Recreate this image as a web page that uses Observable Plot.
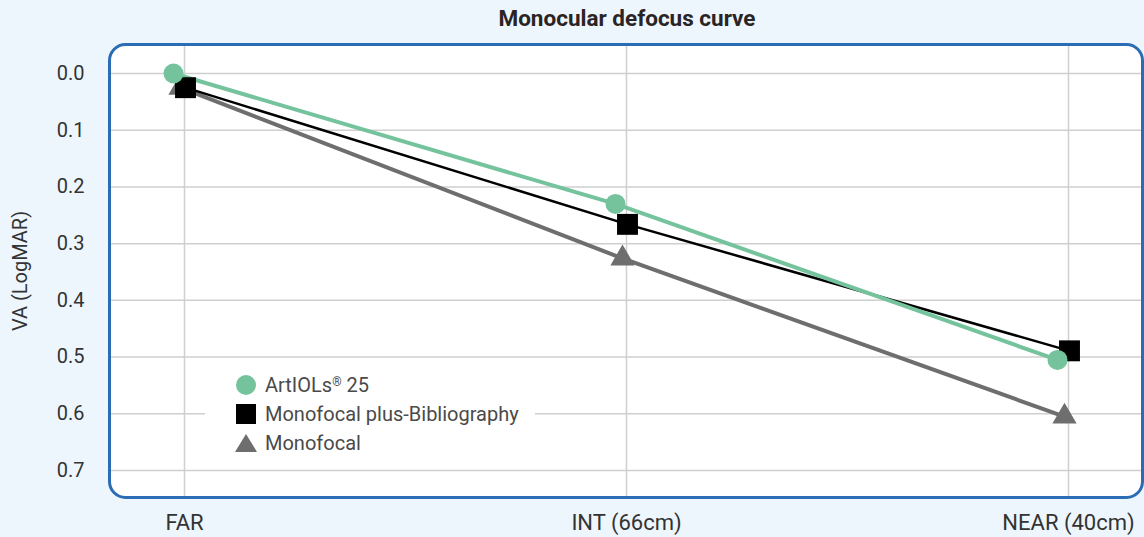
<!DOCTYPE html>
<html>
<head>
<meta charset="utf-8">
<script src="https://cdn.jsdelivr.net/npm/d3@7"></script>
<script src="https://cdn.jsdelivr.net/npm/@observablehq/plot@0.6"></script>
<style>
  html, body { margin: 0; padding: 0; background: #eef6fd; }
  #wrap { position: relative; width: 1144px; height: 537px; font-family: Roboto, "Noto Sans", sans-serif; }
  #title { position: absolute; left: 0; width: 1254px; top: 5px; text-align: center; font-weight: 700; font-size: 22.5px; color: #2a2424; }
  #legend { position: absolute; left: 205px; top: 370px; width: 330px; height: 88px; background: #fff; font-size: 20px; color: #4a4a4a; }
  .row { position: absolute; left: 30px; height: 24px; display: flex; align-items: center; }
  .row svg { margin-right: 8px; }
  sup { font-size: 12px; vertical-align: 6px; }
</style>
</head>
<body>
<div id="wrap">
  <div id="chart"></div>
  <div id="title">Monocular defocus curve</div>
  <div id="legend"></div>
</div>
<script>
const categories = ["FAR", "INT (66cm)", "NEAR (40cm)"];
const seriesNames = ["ArtIOLs® 25", "Monofocal plus-Bibliography", "Monofocal"];
const artiolsValues = [0.0, 0.23, 0.505];
const monoPlusValues = [0.025, 0.266, 0.489];
const monofocalValues = [0.025, 0.326, 0.605];
const yTicks = [0.0, 0.1, 0.2, 0.3, 0.4, 0.5, 0.6, 0.7];

const styles = {
  "ArtIOLs® 25": {color: "#74c39d", symbol: "circle", r: 10, sw: 4, dx: -11},
  "Monofocal plus-Bibliography": {color: "#000000", symbol: "square", r: 11.8, sw: 2.5, dx: 1},
  "Monofocal": {color: "#6e6e6e", symbol: "triangle", r: 9, sw: 4, dx: -4}
};
const valueLists = [artiolsValues, monoPlusValues, monofocalValues];
const data = seriesNames.flatMap((s, i) => categories.map((c, j) => ({series: s, cat: c, va: valueLists[i][j]})));

const marks = [
  Plot.frame({fill: "#ffffff", rx: 16}),
  Plot.gridY(yTicks, {stroke: "#cfcfcf", strokeOpacity: 1, strokeWidth: 1.5}),
  Plot.gridX(categories, {stroke: "#cfcfcf", strokeOpacity: 1, strokeWidth: 1.5}),
];
for (const s of ["Monofocal", "Monofocal plus-Bibliography", "ArtIOLs® 25"]) {
  const st = styles[s];
  marks.push(Plot.line(data.filter(d => d.series === s), {x: "cat", y: "va", stroke: st.color, strokeWidth: st.sw, dx: st.dx}));
}
for (const s of ["Monofocal", "Monofocal plus-Bibliography", "ArtIOLs® 25"]) {
  const st = styles[s];
  marks.push(Plot.dot(data.filter(d => d.series === s), {x: "cat", y: "va", fill: st.color, symbol: st.symbol, r: st.r, dx: st.dx}));
}
marks.push(Plot.frame({stroke: "#2a6db5", strokeWidth: 3, rx: 16}));
marks.push(Plot.axisY(yTicks, {tickSize: 0, tickPadding: 25, tickFormat: d3.format(".1f"), fontSize: 20, color: "#333", label: null}));
marks.push(Plot.axisY({tickSize: 0, ticks: [], label: "VA (LogMAR)", labelAnchor: "center", labelArrow: "none", labelOffset: 97, fontSize: 20, color: "#333"}));
marks.push(Plot.axisX({tickSize: 0, tickPadding: 17, fontSize: 22, color: "#333", label: null}));

const chart = Plot.plot({
  width: 1144,
  height: 537,
  marginLeft: 109,
  marginRight: 2,
  marginTop: 44,
  marginBottom: 40,
  style: {background: "transparent", fontFamily: "Roboto, 'Noto Sans', sans-serif", color: "#333"},
  x: {type: "point", domain: categories, padding: 0, insetLeft: 75, insetRight: 74},
  y: {domain: [0, 0.7], reverse: true, insetTop: 29, insetBottom: 27},
  symbol: {domain: ["circle", "square", "triangle"]},
  marks
});
document.getElementById("chart").appendChild(chart);

const legend = document.getElementById("legend");
const symPaths = {
  circle: c => `<circle cx="11" cy="11" r="10" fill="${c}"/>`,
  square: c => `<rect x="1" y="1" width="20" height="20" fill="${c}"/>`,
  triangle: c => `<polygon points="11,2 22,20 0,20" fill="${c}"/>`
};
seriesNames.forEach((s, i) => {
  const st = styles[s];
  const row = document.createElement("div");
  row.className = "row";
  row.style.top = (3 + i * 29) + "px";
  const label = s.replace("®", "<sup>®</sup>");
  row.innerHTML = `<svg width="22" height="22">${symPaths[st.symbol](st.color)}</svg><span>${label}</span>`;
  legend.appendChild(row);
});
</script>
</body>
</html>
